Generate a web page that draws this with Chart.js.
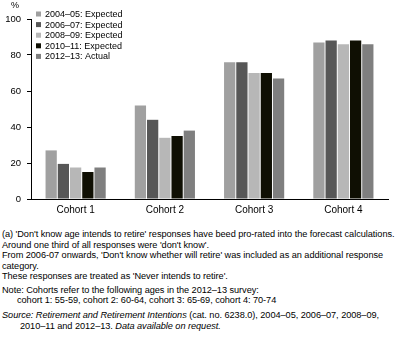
<!DOCTYPE html>
<html lang="en">
<head>
    <meta charset="UTF-8">
    <title>Retirement intentions by cohort</title>
    <style>
        body {
            margin: 0;
            background: #fff;
        }
        #wrap {
            position: relative;
            width: 397px;
            height: 340px;
            font-family: 'Liberation Sans', Arial, sans-serif;
        }
        #chartBox {
            position: absolute;
            left: 0;
            top: 0;
            width: 397px;
            height: 221px;
        }
        .notes {
            position: absolute;
            left: 2px;
            top: 229px;
            font-size: 9.2px;
            line-height: 10.5px;
            color: #000;
            white-space: nowrap;
            letter-spacing: -0.05px;
        }
        .notes p {
            margin: 0;
        }
        .gap1 { margin-top: 3px !important; }
        .gap2 { margin-top: 4.5px !important; }
        .ind1 { padding-left: 15px; }
        .ind2 { padding-left: 18px; }
    </style>
</head>
<body>
<div id="wrap">
    <div id="chartBox"><canvas id="myChart" width="397" height="221"></canvas></div>
    <div class="notes">
        <p>(a) 'Don't know age intends to retire' responses have beed pro-rated into the forecast calculations.</p>
        <p>Around one third of all responses were 'don't know'.</p>
        <p>From 2006-07 onwards, 'Don't know whether will retire' was included as an additional response</p>
        <p>category.</p>
        <p>These responses are treated as 'Never intends to retire'.</p>
        <p class="gap1">Note: Cohorts refer to the following ages in the 2012–13 survey:</p>
        <p class="ind1">cohort 1: 55-59, cohort 2: 60-64, cohort 3: 65-69, cohort 4: 70-74</p>
        <p class="gap2"><i>Source: Retirement and Retirement Intentions</i> (cat. no. 6238.0), 2004–05, 2006–07, 2008–09,</p>
        <p class="ind2">2010–11 and 2012–13. <i>Data available on request.</i></p>
    </div>
</div>

<script src="https://cdn.jsdelivr.net/npm/chart.js"></script>
<script>
    // data
    let cohorts = ['Cohort 1', 'Cohort 2', 'Cohort 3', 'Cohort 4'];
    let seriesNames = ['2004–05: Expected', '2006–07: Expected', '2008–09: Expected', '2010–11: Expected', '2012–13: Actual'];
    let exp0405 = [27, 52, 76, 87];
    let exp0607 = [19.5, 44, 76, 88];
    let exp0809 = [17.5, 34, 70, 86];
    let exp1011 = [15, 35, 70, 88];
    let act1213 = [17.5, 38, 67, 86];
    let yTicks = [0, 20, 40, 60, 80, 100];

    let colors = ['#a0a0a0', '#575757', '#b7b7b7', '#0f0f03', '#7f7f7f'];
    let allValues = [exp0405, exp0607, exp0809, exp1011, act1213];

    let datasets = [];
    for (let i = 0; i < seriesNames.length; i++) {
        datasets.push({
            label: seriesNames[i],
            data: allValues[i],
            backgroundColor: colors[i],
            borderWidth: 0,
            barPercentage: 0.92,
            categoryPercentage: 0.685
        });
    }

    // legend inside the plot, top-left, plus the "%" unit label
    let legendPlugin = {
        id: 'insideLegend',
        afterDraw(chart) {
            let ctx = chart.ctx;
            ctx.save();
            ctx.font = '9px "Liberation Sans", Arial, sans-serif';
            ctx.fillStyle = '#000';
            ctx.textBaseline = 'middle';
            ctx.textAlign = 'center';
            ctx.fillText('%', 15, 6);
            ctx.textAlign = 'left';
            chart.data.datasets.forEach((ds, i) => {
                let y = 14 + i * 10.6;
                ctx.fillStyle = ds.backgroundColor;
                ctx.fillRect(36, y - 2.5, 5, 5);
                ctx.fillStyle = '#000';
                ctx.fillText(ds.label, 45, y + 0.5);
            });
            ctx.restore();
        }
    };

    let ctx = document.getElementById('myChart');
    let myChart = new Chart(ctx, {
        type: 'bar',
        data: {
            labels: cohorts,
            datasets: datasets
        },
        options: {
            responsive: false,
            animation: false,
            layout: {
                padding: { top: 19, right: 9, bottom: 0, left: 0 }
            },
            plugins: {
                legend: { display: false },
                tooltip: { enabled: false }
            },
            scales: {
                x: {
                    grid: { display: false, drawTicks: false },
                    border: { color: '#000', width: 1 },
                    ticks: {
                        color: '#000',
                        padding: 5,
                        font: { family: 'Liberation Sans', size: 10 }
                    }
                },
                y: {
                    min: 0,
                    max: 100,
                    z: 1,
                    afterFit(scale) { scale.width = 31; },
                    afterBuildTicks(scale) {
                        scale.ticks = yTicks.map(v => ({ value: v }));
                    },
                    grid: {
                        color: c => (c.tick && c.tick.value === 0) ? 'rgba(0,0,0,0)' : '#ffffff',
                        tickColor: '#000',
                        tickLength: 4,
                        lineWidth: 1
                    },
                    border: { color: '#000', width: 1 },
                    ticks: {
                        color: '#000',
                        padding: 6,
                        font: { family: 'Liberation Sans', size: 9.5 }
                    }
                }
            }
        },
        plugins: [legendPlugin]
    });
</script>
</body>
</html>
